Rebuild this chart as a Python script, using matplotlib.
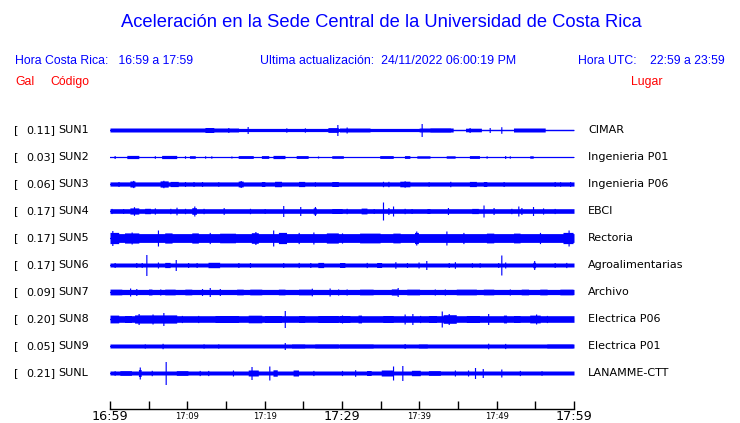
import numpy as np
import matplotlib
matplotlib.use("Agg")
import matplotlib.pyplot as plt

# ---------------- data ----------------
codes = ["SUN1", "SUN2", "SUN3", "SUN4", "SUN5", "SUN6", "SUN7", "SUN8", "SUN9", "SUNL"]
peaks = ["0.11", "0.03", "0.06", "0.17", "0.17", "0.17", "0.09", "0.20", "0.05", "0.21"]
places = ["CIMAR", "Ingenieria P01", "Ingenieria P06", "EBCI", "Rectoria",
          "Agroalimentarias", "Archivo", "Electrica P06", "Electrica P01", "LANAMME-CTT"]

# background half-amplitude of each trace (px at reference scale)
base_amp = [0.6, 0.5, 2.1, 2.3, 4.4, 2.0, 2.6, 3.3, 2.0, 2.0]

# bursts read from the record: (start minute, end minute, half-amplitude px)
events = [
    # SUN1
    [(0, 16.6, 2.0), (16.6, 29.7, 1.6), (12.3, 13.4, 2.5), (15.3, 15.3, 2.5), (17.8, 17.8, 3.5),
     (22.8, 22.8, 2.2), (25.2, 25.2, 2.2), (28.2, 29.5, 2.4), (29.4, 29.4, 5.5), (29.7, 33.6, 2.0),
     (30.6, 30.6, 3.0), (33.6, 40.0, 1.6), (40.0, 44.4, 2.0), (40.3, 40.3, 6.5), (41.4, 44.0, 2.2),
     (46.0, 48.0, 1.8), (46.5, 46.5, 2.5), (49.1, 49.1, 2.5), (50.6, 50.6, 3.3), (52.2, 56.3, 2.0)],
    # SUN2
    [(0.6, 0.6, 1.5), (2.2, 3.7, 1.6), (5.8, 5.8, 1.3), (6.7, 8.6, 1.6), (9.7, 9.7, 1.3),
     (10.3, 11.0, 1.3), (12.3, 12.3, 1.2), (13.1, 13.1, 1.2), (15.7, 15.7, 1.0), (16.6, 18.5, 1.4),
     (19.6, 20.5, 1.4), (21.1, 22.6, 1.6), (24.1, 25.6, 1.4), (26.9, 26.9, 1.0), (28.7, 30.2, 1.3),
     (34.9, 36.6, 1.4), (38.1, 38.8, 1.4), (39.7, 41.4, 1.2), (43.5, 44.6, 1.2), (46.5, 47.8, 1.4),
     (48.7, 48.7, 1.2), (51.1, 51.1, 1.5), (51.7, 51.7, 1.2), (54.3, 54.7, 1.2)],
    # SUN3
    [(1.1, 1.1, 2.5), (2.6, 3.2, 3.0), (3.0, 3.0, 3.6), (6.5, 7.5, 3.1), (6.9, 6.9, 3.7),
     (7.8, 8.8, 2.6), (9.7, 9.7, 2.5), (10.8, 10.8, 2.5), (11.9, 11.9, 2.5), (14.0, 14.0, 2.4),
     (16.6, 17.2, 2.9), (16.9, 16.9, 3.5), (19.6, 20.0, 2.5), (21.3, 22.2, 2.7), (24.4, 25.2, 2.6),
     (26.5, 26.5, 2.4), (28.7, 29.5, 2.5), (35.3, 35.3, 2.7), (36.0, 36.0, 2.7), (37.5, 38.8, 2.8),
     (38.1, 38.1, 3.3), (41.2, 41.2, 2.4), (44.0, 44.0, 2.7), (46.5, 47.4, 2.6), (48.3, 48.7, 2.5),
     (50.9, 50.9, 2.5), (57.5, 57.5, 2.5), (58.2, 58.2, 2.4), (59.5, 59.5, 2.5)],
    # SUN4
    [(0.2, 0.2, 2.6), (1.7, 1.7, 2.5), (2.6, 3.7, 3.1), (3.1, 3.1, 4.3), (4.5, 5.2, 2.7),
     (5.8, 5.8, 3.1), (7.8, 7.8, 2.7), (8.6, 8.6, 3.8), (9.7, 9.7, 2.7), (10.6, 11.2, 3.3),
     (10.9, 10.9, 5.0), (12.1, 12.1, 2.7), (14.7, 14.7, 3.4), (18.1, 18.1, 2.7), (20.0, 20.0, 2.5),
     (22.4, 22.4, 5.5), (24.6, 24.6, 4.5), (26.3, 26.7, 3.1), (26.5, 26.5, 4.5), (28.7, 30.0, 2.5),
     (30.6, 30.6, 2.7), (32.5, 33.2, 2.9), (34.1, 34.1, 2.5), (35.3, 35.3, 9.0), (36.0, 36.0, 3.5),
     (36.6, 36.6, 5.0), (38.1, 38.1, 2.7), (39.0, 39.0, 2.5), (41.0, 41.4, 2.5), (43.7, 43.7, 3.5),
     (46.8, 47.6, 2.6), (48.3, 48.3, 6.0), (49.6, 49.6, 3.5), (51.9, 51.9, 2.7), (52.8, 52.8, 5.0),
     (53.2, 53.2, 3.5), (54.7, 54.7, 4.5), (56.0, 56.0, 3.1), (57.5, 57.5, 2.6)],
    # SUN5
    [(0.0, 1.1, 5.6), (0.3, 0.3, 7.5), (1.9, 3.7, 5.1), (2.8, 2.8, 6.0), (6.2, 6.2, 8.0),
     (7.1, 8.0, 5.1), (10.6, 11.4, 5.1), (12.9, 12.9, 5.6), (14.2, 16.2, 4.8), (18.3, 19.2, 5.3),
     (18.8, 18.8, 6.5), (21.1, 21.1, 8.0), (21.8, 22.8, 5.6), (24.4, 24.4, 5.6), (26.3, 26.3, 6.0),
     (28.0, 29.5, 5.1), (30.0, 30.0, 5.1), (32.3, 34.9, 4.9), (36.6, 37.5, 4.9), (39.4, 39.9, 5.6),
     (39.6, 39.6, 7.0), (43.5, 43.5, 7.0), (45.7, 45.7, 5.6), (48.7, 49.6, 4.9), (52.2, 53.0, 4.9),
     (55.6, 55.6, 5.6), (58.6, 59.9, 5.6), (59.3, 59.3, 8.0)],
    # SUN6
    [(0.6, 0.6, 2.5), (3.4, 3.4, 2.5), (4.1, 4.1, 2.5), (4.7, 4.7, 10.5), (6.2, 6.2, 3.0),
     (7.1, 7.8, 2.6), (8.5, 8.5, 5.5), (10.1, 10.1, 2.5), (11.2, 11.2, 2.5), (12.7, 14.2, 2.7),
     (16.6, 16.6, 2.5), (18.1, 18.1, 2.5), (22.4, 22.4, 2.5), (24.4, 24.4, 2.6), (25.9, 25.9, 2.5),
     (26.9, 27.6, 2.6), (29.7, 30.4, 2.5), (33.2, 33.2, 2.6), (34.5, 35.1, 2.5), (36.9, 36.9, 3.3),
     (38.4, 38.4, 2.5), (39.9, 39.9, 3.0), (40.9, 40.9, 4.5), (43.8, 43.8, 2.5), (44.6, 44.6, 3.3),
     (46.8, 46.8, 2.4), (47.8, 47.8, 2.4), (50.2, 50.2, 2.5), (50.6, 50.6, 10.0), (51.1, 51.1, 3.0),
     (54.7, 55.0, 2.7), (54.85, 54.85, 4.5), (57.5, 57.5, 2.5), (59.0, 59.0, 2.6)],
    # SUN7
    [(0.0, 1.5, 2.9), (2.6, 2.6, 4.0), (3.4, 3.4, 3.5), (5.0, 5.4, 3.0), (6.5, 6.5, 3.1),
     (7.1, 8.4, 2.9), (9.7, 10.6, 2.9), (11.9, 11.9, 3.5), (12.9, 12.9, 4.5), (14.2, 14.2, 3.5),
     (16.4, 17.2, 2.9), (18.1, 19.6, 2.9), (21.8, 22.6, 2.9), (24.4, 26.0, 2.9), (26.1, 26.1, 3.8),
     (28.4, 28.4, 4.0), (29.5, 29.5, 3.1), (30.6, 30.6, 3.1), (32.3, 34.0, 2.9), (36.4, 37.3, 3.1),
     (37.2, 37.2, 4.5), (38.4, 40.0, 2.9), (42.0, 42.0, 3.1), (43.3, 43.3, 3.1), (44.8, 47.4, 2.9),
     (48.3, 49.6, 2.9), (51.7, 51.7, 3.1), (53.2, 54.1, 2.9), (55.6, 56.5, 2.9), (58.2, 59.9, 2.9)],
    # SUN8
    [(0.0, 1.1, 3.9), (1.9, 2.8, 3.5), (3.2, 8.6, 4.1), (3.7, 3.7, 5.5), (5.5, 5.5, 5.0),
     (6.9, 6.9, 6.5), (9.3, 9.3, 3.6), (11.4, 11.4, 3.6), (13.6, 16.6, 3.5), (17.9, 19.6, 3.8),
     (20.0, 22.2, 3.5), (22.6, 22.6, 8.5), (24.4, 25.2, 3.5), (26.9, 29.5, 3.5), (30.0, 30.0, 4.0),
     (29.7, 31.0, 3.5), (32.1, 32.5, 3.9), (35.3, 36.6, 3.5), (38.1, 38.1, 5.0), (39.1, 39.1, 5.5),
     (40.1, 40.1, 3.6), (41.2, 42.2, 3.5), (42.9, 42.9, 8.0), (43.1, 44.8, 4.3), (43.8, 43.8, 5.5),
     (46.1, 47.8, 3.5), (48.9, 48.9, 5.5), (50.9, 51.3, 3.9), (52.2, 53.0, 3.5), (54.3, 55.6, 3.9),
     (55.1, 55.1, 5.0), (56.5, 56.5, 3.6)],
    # SUN9
    [(4.5, 4.5, 2.3), (6.8, 6.8, 2.7), (12.1, 12.1, 2.3), (14.0, 14.0, 2.3), (22.6, 22.6, 3.5),
     (23.5, 25.2, 2.2), (26.5, 29.5, 2.2), (29.7, 34.0, 2.2), (38.1, 38.1, 2.5), (39.9, 41.0, 2.2),
     (48.9, 48.9, 2.8), (51.1, 51.1, 2.6), (56.5, 59.9, 2.2)],
    # SUNL
    [(0.6, 0.6, 2.4), (1.3, 2.8, 2.4), (3.7, 4.0, 3.5), (3.85, 3.85, 6.0), (5.4, 5.4, 2.7),
     (7.2, 7.2, 11.5), (8.6, 10.1, 2.4), (11.6, 11.6, 2.6), (12.7, 12.7, 2.6), (15.9, 15.9, 3.0),
     (17.9, 19.2, 3.0), (18.3, 18.3, 6.5), (20.6, 20.6, 7.0), (21.1, 21.6, 3.2), (23.7, 24.4, 3.0),
     (26.3, 26.3, 2.6), (30.0, 30.0, 2.6), (31.7, 31.7, 3.3), (33.2, 33.8, 2.5), (35.1, 36.6, 3.0),
     (36.6, 36.6, 7.0), (37.8, 37.8, 7.5), (39.0, 40.1, 2.7), (41.2, 42.7, 2.4), (44.6, 44.6, 3.0),
     (46.3, 46.3, 3.0), (47.2, 47.2, 5.5), (48.2, 48.2, 4.5), (50.6, 50.6, 4.0), (53.0, 53.0, 2.6),
     (55.8, 55.8, 2.4)],
]

tick_minutes = list(range(0, 61, 5))
tick_labels = ["16:59", "", "17:09", "", "17:19", "", "17:29", "", "17:39", "", "17:49", "", "17:59"]
big_labels = ["16:59", "17:29", "17:59"]

# ---------------- figure ----------------
W, H = 740, 423
fig = plt.figure(figsize=(W / 100, H / 100), dpi=100)
fig.patch.set_facecolor("white")

BLUE = "#0000ff"
RED = "#ff0000"
HFONT = ["Liberation Sans", "DejaVu Sans"]


def fx(px):
    return px / W


def fy(py):
    return 1 - py / H


# header
fig.text(fx(381.5), fy(22.5), "Aceleración en la Sede Central de la Universidad de Costa Rica",
         ha="center", va="center", color=BLUE, fontsize=13.2, family=HFONT)
fig.text(fx(15), fy(61), "Hora Costa Rica:   16:59 a 17:59", ha="left", va="center",
         color=BLUE, fontsize=8.8, family=HFONT)
fig.text(fx(260), fy(61), "Ultima actualización:  24/11/2022 06:00:19 PM", ha="left", va="center",
         color=BLUE, fontsize=8.9, family=HFONT)
fig.text(fx(725), fy(61), "Hora UTC:    22:59 a 23:59", ha="right", va="center",
         color=BLUE, fontsize=8.8, family=HFONT)
fig.text(fx(15), fy(82), "Gal", ha="left", va="center", color=RED, fontsize=8.8, family=HFONT)
fig.text(fx(50), fy(82), "Código", ha="left", va="center", color=RED, fontsize=8.8, family=HFONT)
fig.text(fx(662), fy(82), "Lugar", ha="right", va="center", color=RED, fontsize=8.8, family=HFONT)

# trace axes
ax_left, ax_right, ax_top, ax_bottom = 110, 574, 115, 409
ax = fig.add_axes([fx(ax_left), fy(ax_bottom), (ax_right - ax_left) / W, (ax_bottom - ax_top) / H])
row0_px, row_step = 130, 27
ax.set_xlim(0, 60)
ax.set_ylim((ax_bottom - row0_px) / row_step, (ax_top - row0_px) / row_step)

t = np.linspace(0, 60, 1201)
for i, code in enumerate(codes):
    env = np.full_like(t, base_amp[i])
    for a, b, amp in events[i]:
        if b - a < 0.15:
            a, b = a - 0.08, b + 0.08
        m = (t >= a) & (t <= b)
        env[m] = np.maximum(env[m], amp)
    env = np.maximum(env, 0.5) / row_step
    ax.fill_between(t, i - env, i + env, color=BLUE, lw=0, step="mid", antialiased=False)
    ax.plot([0, 60], [i, i], color=BLUE, lw=0.9)
    ypos = fy(row0_px + row_step * i)
    fig.text(fx(14), ypos, "[", ha="left", va="center", fontsize=8, color="black")
    fig.text(fx(55.5), ypos, peaks[i] + "]", ha="right", va="center", fontsize=8, color="black")
    fig.text(fx(58.5), ypos, code, ha="left", va="center", fontsize=8, color="black")
    fig.text(fx(588), ypos, places[i], ha="left", va="center", fontsize=8, color="black")

for s in ["top", "left", "right"]:
    ax.spines[s].set_visible(False)
ax.spines["bottom"].set_linewidth(1.0)
ax.set_yticks([])
ax.set_xticks(tick_minutes)
ax.set_xticklabels(tick_labels)
ax.tick_params(axis="x", direction="in", length=6, width=1.0, pad=5.5)
for lab in ax.get_xticklabels():
    if lab.get_text() in big_labels:
        lab.set_fontsize(9.2)
    else:
        lab.set_fontsize(6)
    lab.set_verticalalignment("center")
ax.patch.set_alpha(0)

fig.savefig("out.png", dpi=100, facecolor="white")
